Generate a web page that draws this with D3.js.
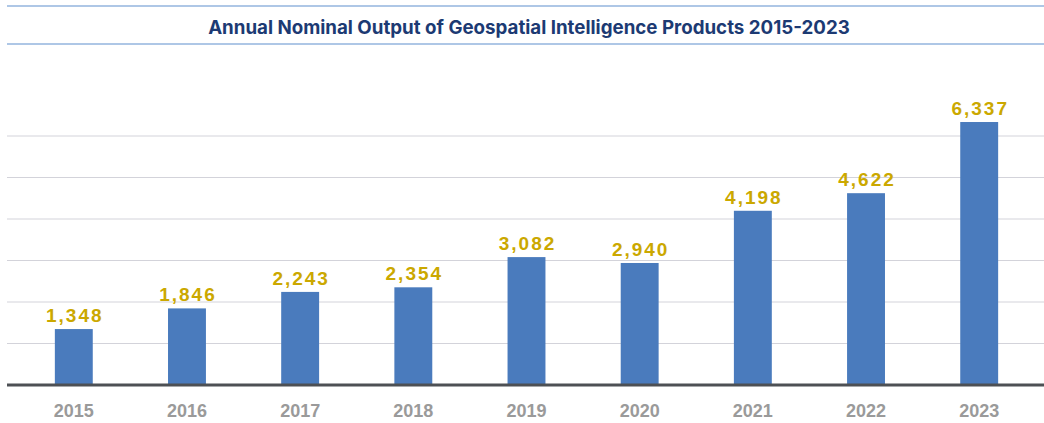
<!DOCTYPE html>
<html>
<head>
<meta charset="utf-8">
<script src="https://cdn.jsdelivr.net/npm/d3@7"></script>
<style>
  html, body { margin:0; padding:0; background:#fff; }
  svg { display:block; }
</style>
</head>
<body>
<svg id="chart" width="1044" height="423"></svg>
<script>
// Data
const years  = ['2015','2016','2017','2018','2019','2020','2021','2022','2023'];
const output = [1348, 1846, 2243, 2354, 3082, 2940, 4198, 4622, 6337];
const gridTicks = [1000, 2000, 3000, 4000, 5000, 6000];
const title = 'Annual Nominal Output of Geospatial Intelligence Products 2015-2023';

const W = 1044, H = 423;
const svg = d3.select('#chart');
const baseY = 385, left = 7;

const x = d3.scaleBand().domain(years).range([17.5, 1035.5]).paddingInner(0.665).paddingOuter(0.33);
const y = d3.scaleLinear().domain([0, 6000]).range([baseY, 136]);

// header rules + title
svg.append('line').attr('x1', left).attr('x2', W).attr('y1', 6).attr('y2', 6)
  .attr('stroke', '#93b4de').attr('stroke-width', 1.5);
svg.append('line').attr('x1', left).attr('x2', W).attr('y1', 44).attr('y2', 44)
  .attr('stroke', '#93b4de').attr('stroke-width', 1.5);
const t = svg.append('text').attr('x', 529).attr('y', 34).attr('text-anchor', 'middle')
  .attr('font-family', 'Inter, Lato, sans-serif').attr('font-weight', 700).attr('font-size', 17)
  .attr('fill', '#1c3a73').text(title);
// fit title to the width it takes in the original (~642px)
const tw = t.node().getComputedTextLength();
t.attr('font-size', 17 * 642 / tw);

// gridlines
svg.append('g').selectAll('line').data(gridTicks).join('line')
  .attr('x1', left).attr('x2', W)
  .attr('y1', d => y(d)).attr('y2', d => y(d))
  .attr('stroke', '#d3d3da').attr('stroke-width', 1);

// bars
svg.append('g').selectAll('rect').data(output).join('rect')
  .attr('x', (d, i) => x(years[i]))
  .attr('y', d => y(d))
  .attr('width', x.bandwidth())
  .attr('height', d => baseY - y(d))
  .attr('fill', '#4a7bbd');

// baseline
svg.append('line').attr('x1', left).attr('x2', W).attr('y1', baseY).attr('y2', baseY)
  .attr('stroke', '#4d5054').attr('stroke-width', 3);

// value labels
svg.append('g').selectAll('text').data(output).join('text')
  .attr('x', (d, i) => x(years[i]) + x.bandwidth() / 2 + 1)
  .attr('y', d => y(d) - 7)
  .attr('text-anchor', 'middle')
  .attr('font-family', 'Liberation Sans, Arial, sans-serif').attr('font-weight', 700)
  .attr('font-size', 19).attr('letter-spacing', 2)
  .attr('fill', '#cba800')
  .text(d => d3.format(',')(d));

// year labels
svg.append('g').selectAll('text').data(years).join('text')
  .attr('x', d => x(d) + x.bandwidth() / 2)
  .attr('y', 416.5)
  .attr('text-anchor', 'middle')
  .attr('font-family', 'Liberation Sans, Arial, sans-serif').attr('font-weight', 700)
  .attr('font-size', 18)
  .attr('fill', '#9a9a9a')
  .text(d => d);
</script>
</body>
</html>
